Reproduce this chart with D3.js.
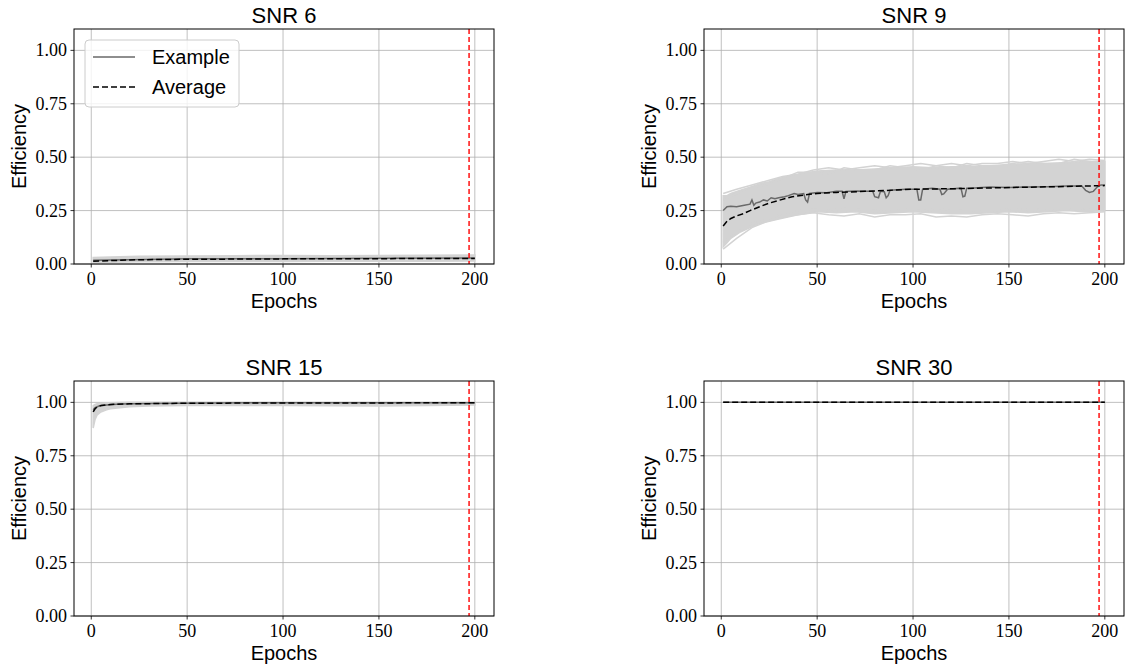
<!DOCTYPE html>
<html>
<head>
<meta charset="utf-8">
<script src="https://cdn.jsdelivr.net/npm/d3@7"></script>
<style>
  body { margin: 0; background: #fff; }
  .ttl { font-family: "Liberation Sans", Arial, sans-serif; font-size: 22px; }
  .lbl { font-family: "Liberation Sans", Arial, sans-serif; font-size: 20px; }
  .tk { font-family: "Liberation Serif", "DejaVu Serif", serif; font-size: 18px; fill: #000; }
</style>
</head>
<body>
<svg></svg>
<script>
//	chart data
var titles = ["SNR 6", "SNR 9", "SNR 15", "SNR 30"];
var xTicks = [0, 50, 100, 150, 200];
var yTicks = [0, 0.25, 0.5, 0.75, 1.0];
var stopEpoch = 197;

//	SNR 6
var snr6BandEpochs = [1, 10, 25, 50, 75, 100, 125, 150, 175, 200];
var snr6BandLow = [0.005, 0.008, 0.010, 0.012, 0.012, 0.012, 0.013, 0.013, 0.013, 0.014];
var snr6BandHigh = [0.030, 0.033, 0.036, 0.038, 0.039, 0.040, 0.039, 0.040, 0.041, 0.042];
var snr6AvgEpochs = [1, 10, 25, 50, 100, 150, 200];
var snr6Avg = [0.013, 0.016, 0.020, 0.022, 0.024, 0.025, 0.026];
var snr6ExEpochs = [1, 20, 50, 100, 150, 200];
var snr6Ex = [0.018, 0.020, 0.024, 0.025, 0.027, 0.028];

//	SNR 9
var snr9BandEpochs = [1, 3, 5, 10, 15, 20, 25, 30, 40, 50, 60, 70, 80, 90, 100, 110, 120, 130, 140, 150, 160, 170, 180, 190, 200];
var snr9BandLow = [0.08, 0.10, 0.12, 0.15, 0.17, 0.19, 0.20, 0.21, 0.23, 0.245, 0.24, 0.245, 0.235, 0.24, 0.245, 0.24, 0.235, 0.235, 0.24, 0.245, 0.24, 0.245, 0.25, 0.245, 0.25];
var snr9BandHigh = [0.32, 0.32, 0.33, 0.345, 0.36, 0.375, 0.385, 0.40, 0.42, 0.435, 0.44, 0.44, 0.445, 0.45, 0.455, 0.45, 0.455, 0.455, 0.46, 0.465, 0.47, 0.47, 0.475, 0.48, 0.48];
var snr9RunEpochs = [1, 8, 16, 24, 32, 40, 48, 56, 64, 72, 80, 88, 96, 104, 112, 120, 128, 136, 144, 152, 160, 168, 176, 184, 192, 200];
var snr9RunTop = [0.33, 0.35, 0.37, 0.39, 0.41, 0.42, 0.44, 0.45, 0.44, 0.45, 0.46, 0.45, 0.46, 0.47, 0.46, 0.47, 0.46, 0.47, 0.47, 0.48, 0.47, 0.48, 0.49, 0.48, 0.49, 0.485];
var snr9RunTop2 = [0.30, 0.33, 0.36, 0.37, 0.40, 0.43, 0.43, 0.42, 0.45, 0.44, 0.44, 0.46, 0.45, 0.44, 0.46, 0.45, 0.47, 0.46, 0.46, 0.47, 0.48, 0.47, 0.47, 0.49, 0.48, 0.47];
var snr9RunLow = [0.07, 0.12, 0.17, 0.20, 0.22, 0.23, 0.24, 0.23, 0.225, 0.235, 0.22, 0.23, 0.23, 0.235, 0.22, 0.225, 0.22, 0.23, 0.235, 0.23, 0.225, 0.235, 0.24, 0.235, 0.24, 0.245];
var snr9RunLow2 = [0.10, 0.15, 0.19, 0.21, 0.235, 0.25, 0.255, 0.25, 0.26, 0.255, 0.25, 0.245, 0.255, 0.25, 0.26, 0.25, 0.255, 0.245, 0.25, 0.26, 0.255, 0.26, 0.25, 0.26, 0.255, 0.26];
var snr9AvgEpochs = [1, 3, 5, 8, 11, 15, 20, 25, 30, 37, 45, 50, 60, 75, 100, 125, 150, 175, 200];
var snr9Avg = [0.178, 0.20, 0.213, 0.225, 0.234, 0.25, 0.268, 0.285, 0.298, 0.315, 0.325, 0.33, 0.335, 0.34, 0.35, 0.353, 0.358, 0.362, 0.367];
var snr9ExEpochs = [1, 3, 5, 8, 12, 15, 16, 17, 18, 20, 22, 24, 26, 28, 30, 33, 35, 38, 40, 43, 44, 45, 46, 50, 55, 60, 63, 64, 65, 70, 75, 79, 80, 82, 83, 85, 86, 87, 88, 92, 96, 100, 102, 103, 104, 105, 110, 114, 115, 116, 118, 125, 126, 127, 128, 130, 140, 150, 160, 170, 180, 188, 190, 192, 194, 196, 198, 200];
var snr9Ex = [0.25, 0.268, 0.27, 0.268, 0.275, 0.28, 0.30, 0.275, 0.285, 0.29, 0.30, 0.295, 0.31, 0.305, 0.31, 0.315, 0.32, 0.33, 0.325, 0.33, 0.30, 0.29, 0.33, 0.335, 0.333, 0.34, 0.34, 0.305, 0.34, 0.342, 0.34, 0.34, 0.315, 0.31, 0.34, 0.338, 0.31, 0.32, 0.345, 0.348, 0.35, 0.35, 0.35, 0.30, 0.30, 0.35, 0.355, 0.35, 0.325, 0.328, 0.35, 0.355, 0.315, 0.318, 0.355, 0.355, 0.36, 0.358, 0.36, 0.362, 0.365, 0.365, 0.345, 0.335, 0.34, 0.36, 0.37, 0.37];

//	SNR 15
var snr15BandEpochs = [1, 2, 3, 5, 8, 10, 15, 20, 30, 50, 100, 150, 200];
var snr15BandLow = [0.88, 0.92, 0.94, 0.955, 0.965, 0.97, 0.975, 0.98, 0.983, 0.985, 0.985, 0.983, 0.988];
var snr15BandHigh = [0.985, 0.99, 0.993, 0.995, 0.997, 0.998, 0.999, 1.0, 1.0, 1.0, 1.0, 1.0, 1.0];
var snr15AvgEpochs = [1, 2, 3, 5, 10, 20, 50, 100, 200];
var snr15Avg = [0.955, 0.97, 0.978, 0.985, 0.99, 0.993, 0.996, 0.997, 0.998];
var snr15ExEpochs = [1, 2, 4, 8, 15, 30, 60, 100, 200];
var snr15Ex = [0.965, 0.975, 0.983, 0.988, 0.992, 0.995, 0.997, 0.998, 0.998];

//	SNR 30
var snr30Epochs = [1, 200];
var snr30Ex = [1.0, 1.0];
var snr30Avg = [1.0, 1.0];

function zipXY(xs, ys) { return xs.map(function(x, i) { return [x, ys[i]]; }); }

var panels = [
    { title: titles[0], col: 0, row: 0,
      band: [snr6BandEpochs, snr6BandLow, snr6BandHigh], runs: [],
      ex: zipXY(snr6ExEpochs, snr6Ex), avg: zipXY(snr6AvgEpochs, snr6Avg), legend: true },
    { title: titles[1], col: 1, row: 0,
      band: [snr9BandEpochs, snr9BandLow, snr9BandHigh],
      runs: [snr9RunTop, snr9RunTop2, snr9RunLow, snr9RunLow2].map(function(r) { return zipXY(snr9RunEpochs, r); }),
      ex: zipXY(snr9ExEpochs, snr9Ex), avg: zipXY(snr9AvgEpochs, snr9Avg) },
    { title: titles[2], col: 0, row: 1,
      band: [snr15BandEpochs, snr15BandLow, snr15BandHigh], runs: [],
      ex: zipXY(snr15ExEpochs, snr15Ex), avg: zipXY(snr15AvgEpochs, snr15Avg) },
    { title: titles[3], col: 1, row: 1,
      band: null, runs: [],
      ex: zipXY(snr30Epochs, snr30Ex), avg: zipXY(snr30Epochs, snr30Avg) }
];

var width = 1127, height = 671;
var svg = d3.select("svg").attr("width", width).attr("height", height);

var colLeft = [74, 704], rowTop = [29, 381];
var pw = 420, ph = 235;
var gridColor = "#b0b0b0", runColor = "#d3d3d3", exColor = "#696969";

panels.forEach(function(p) {
    var left = colLeft[p.col], top = rowTop[p.row];
    var x = d3.scaleLinear().domain([-9, 210]).range([0, pw]);
    var y = d3.scaleLinear().domain([0, 1.1]).range([ph, 0]);

    var g = svg.append("g").attr("transform", "translate(" + left + "," + top + ")");

    //	grid
    g.append("g").selectAll("line").data(xTicks).enter().append("line")
        .attr("x1", function(d) { return x(d); }).attr("x2", function(d) { return x(d); })
        .attr("y1", 0).attr("y2", ph)
        .attr("stroke", gridColor).attr("stroke-width", 0.8);
    g.append("g").selectAll("line").data(yTicks).enter().append("line")
        .attr("y1", function(d) { return y(d); }).attr("y2", function(d) { return y(d); })
        .attr("x1", 0).attr("x2", pw)
        .attr("stroke", gridColor).attr("stroke-width", 0.8);

    var line = d3.line().x(function(d) { return x(d[0]); }).y(function(d) { return y(d[1]); });

    //	runs envelope
    if (p.band) {
        var bandData = p.band[0].map(function(e, i) { return { e: e, lo: p.band[1][i], hi: p.band[2][i] }; });
        var area = d3.area()
            .x(function(d) { return x(d.e); })
            .y0(function(d) { return y(d.lo); })
            .y1(function(d) { return y(d.hi); });
        g.append("path").datum(bandData).attr("d", area)
            .attr("fill", runColor).attr("stroke", runColor).attr("stroke-width", 1.5);
    }
    p.runs.forEach(function(r) {
        g.append("path").datum(r).attr("d", line)
            .attr("fill", "none").attr("stroke", runColor).attr("stroke-width", 1.5);
    });

    //	example run and average
    g.append("path").datum(p.ex).attr("d", line)
        .attr("fill", "none").attr("stroke", exColor).attr("stroke-width", 1.5);
    g.append("path").datum(p.avg).attr("d", line)
        .attr("fill", "none").attr("stroke", "#000").attr("stroke-width", 1.5)
        .attr("stroke-dasharray", "6,3");

    //	stop epoch marker
    g.append("line")
        .attr("x1", x(stopEpoch)).attr("x2", x(stopEpoch))
        .attr("y1", 0).attr("y2", ph)
        .attr("stroke", "red").attr("stroke-width", 1.4).attr("stroke-dasharray", "5,3");

    //	ticks, drawn by hand from the scales so the serif face is sure to stick
    var xt = g.append("g").selectAll("g").data(xTicks).enter().append("g")
        .attr("transform", function(d) { return "translate(" + x(d) + "," + ph + ")"; });
    xt.append("line").attr("y2", 3.5).attr("stroke", "#000").attr("stroke-width", 0.8);
    xt.append("text").attr("class", "tk").attr("y", 21).attr("text-anchor", "middle")
        .text(d3.format(".0f"));
    var yt = g.append("g").selectAll("g").data(yTicks).enter().append("g")
        .attr("transform", function(d) { return "translate(0," + y(d) + ")"; });
    yt.append("line").attr("x2", -3.5).attr("stroke", "#000").attr("stroke-width", 0.8);
    yt.append("text").attr("class", "tk").attr("x", -7).attr("dy", "0.33em").attr("text-anchor", "end")
        .text(d3.format(".2f"));

    //	spines
    g.append("rect").attr("width", pw).attr("height", ph)
        .attr("fill", "none").attr("stroke", "#000").attr("stroke-width", 1);

    //	labels
    g.append("text").attr("class", "ttl").attr("x", pw / 2).attr("y", -6)
        .attr("text-anchor", "middle").text(p.title);
    g.append("text").attr("class", "lbl").attr("x", pw / 2).attr("y", ph + 44)
        .attr("text-anchor", "middle").text("Epochs");
    g.append("text").attr("class", "lbl")
        .attr("transform", "translate(-48," + (ph / 2) + ") rotate(-90)")
        .attr("text-anchor", "middle").text("Efficiency");

    //	legend
    if (p.legend) {
        var lg = g.append("g").attr("transform", "translate(11,11)");
        lg.append("rect").attr("width", 154).attr("height", 67).attr("rx", 4)
            .attr("fill", "#fff").attr("fill-opacity", 0.8)
            .attr("stroke", "#ccc").attr("stroke-width", 1);
        var items = [{ name: "Example", color: exColor, dash: null }, { name: "Average", color: "#000", dash: "6,3" }];
        items.forEach(function(it, i) {
            var yy = 17 + i * 30;
            lg.append("line").attr("x1", 8).attr("x2", 50).attr("y1", yy).attr("y2", yy)
                .attr("stroke", it.color).attr("stroke-width", 1.5)
                .attr("stroke-dasharray", it.dash);
            lg.append("text").attr("class", "lbl").attr("x", 67).attr("y", yy + 7).text(it.name);
        });
    }
});
</script>
</body>
</html>
